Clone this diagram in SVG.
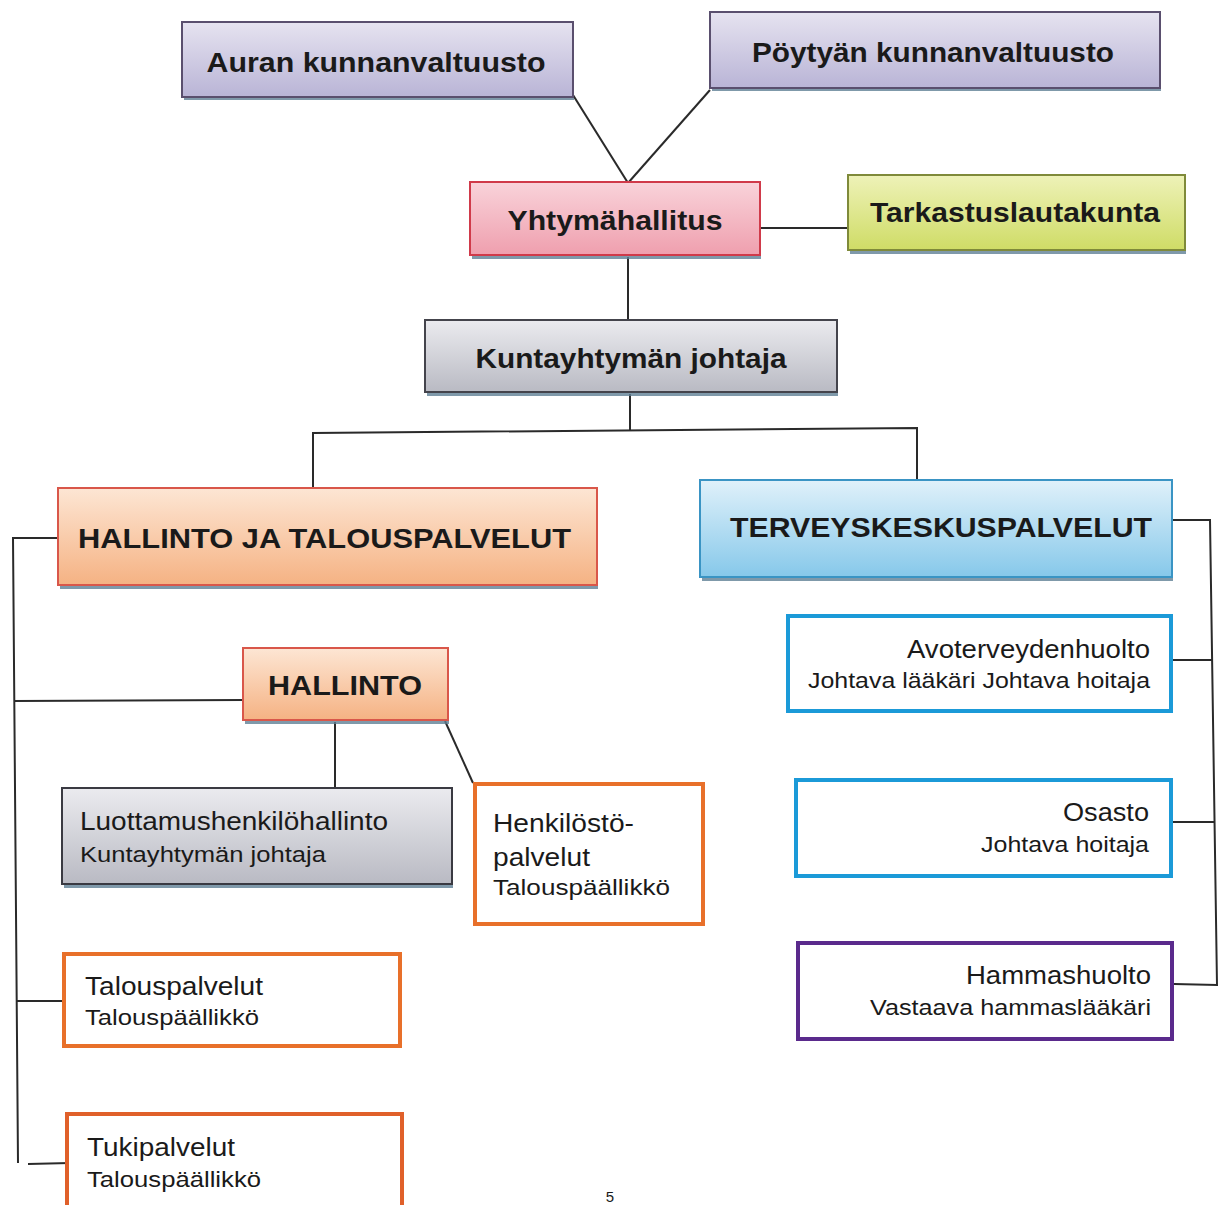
<svg xmlns="http://www.w3.org/2000/svg" width="1225" height="1205" viewBox="0 0 1225 1205">
<defs>
<linearGradient id="gLav" x1="0" y1="0" x2="0" y2="1"><stop offset="0" stop-color="#e6e3f0"/><stop offset="1" stop-color="#b9b4d6"/></linearGradient>
<linearGradient id="gPink" x1="0" y1="0" x2="0" y2="1"><stop offset="0" stop-color="#f9d3da"/><stop offset="1" stop-color="#ef9fae"/></linearGradient>
<linearGradient id="gYel" x1="0" y1="0" x2="0" y2="1"><stop offset="0" stop-color="#eef2b8"/><stop offset="1" stop-color="#cfdc66"/></linearGradient>
<linearGradient id="gGray" x1="0" y1="0" x2="0" y2="1"><stop offset="0" stop-color="#ebebef"/><stop offset="1" stop-color="#b9bac3"/></linearGradient>
<linearGradient id="gPeach" x1="0" y1="0" x2="0" y2="1"><stop offset="0" stop-color="#fde6d4"/><stop offset="1" stop-color="#f5b283"/></linearGradient>
<linearGradient id="gBlue" x1="0" y1="0" x2="0" y2="1"><stop offset="0" stop-color="#e0f1fa"/><stop offset="1" stop-color="#86c8ea"/></linearGradient>
</defs>
<style>
.t{font-family:"Liberation Sans",Arial,sans-serif;fill:#1a1a1a}
.b{font-weight:bold;font-size:28px}
.n1{font-size:25px}
.n2{font-size:22px}
.box{stroke-width:2}
.ol{fill:#ffffff;stroke-width:4}
.sh{fill:#5f7f95;opacity:0.8}
.c{fill:none;stroke:#2a2a2a;stroke-width:2}
</style>
<rect width="1225" height="1205" fill="#ffffff"/>
<g id="connectors">
<line class="c" x1="573" y1="95" x2="628" y2="183"/>
<line class="c" x1="710" y1="90" x2="628" y2="183"/>
<line class="c" x1="760" y1="228" x2="848" y2="228"/>
<line class="c" x1="628" y1="257" x2="628" y2="320"/>
<line class="c" x1="630" y1="394" x2="630" y2="430"/>
<polyline class="c" points="313,490 313,433 917,428 917,480"/>
<polyline class="c" points="1172,520 1210,520 1217,985 1174,984"/>
<line class="c" x1="1172" y1="660" x2="1212" y2="660"/>
<line class="c" x1="1172" y1="822" x2="1214" y2="822"/>
<polyline class="c" points="58,538 13,538 18,1163"/>
<line class="c" x1="14" y1="701" x2="243" y2="700"/>
<line class="c" x1="335" y1="722" x2="335" y2="788"/>
<line class="c" x1="445" y1="721" x2="473" y2="783"/>
<line class="c" x1="17" y1="1001" x2="62" y2="1001"/>
<line class="c" x1="28" y1="1164" x2="70" y2="1163"/>
</g>
<g id="auran">
<rect class="sh" x="184" y="96" width="390" height="4"/>
<rect class="box" x="182" y="22" width="391" height="75" fill="url(#gLav)" stroke="#5a4f6e"/>
<text class="t b" x="376" y="72" text-anchor="middle" textLength="339" lengthAdjust="spacingAndGlyphs">Auran kunnanvaltuusto</text>
</g>
<g id="poytyan">
<rect class="sh" x="712" y="87" width="449" height="4"/>
<rect class="box" x="710" y="12" width="450" height="76" fill="url(#gLav)" stroke="#5a4f6e"/>
<text class="t b" x="933" y="62" text-anchor="middle" textLength="362" lengthAdjust="spacingAndGlyphs">Pöytyän kunnanvaltuusto</text>
</g>
<g id="yhtymahallitus">
<rect class="sh" x="472" y="255" width="289" height="4"/>
<rect class="box" x="470" y="182" width="290" height="73" fill="url(#gPink)" stroke="#d03a4a"/>
<text class="t b" x="615" y="230" text-anchor="middle" textLength="215" lengthAdjust="spacingAndGlyphs">Yhtymähallitus</text>
</g>
<g id="tarkastuslautakunta">
<rect class="sh" x="850" y="250" width="336" height="4"/>
<rect class="box" x="848" y="175" width="337" height="75" fill="url(#gYel)" stroke="#7f8a3a"/>
<text class="t b" x="1015" y="222" text-anchor="middle" textLength="290" lengthAdjust="spacingAndGlyphs">Tarkastuslautakunta</text>
</g>
<g id="kuntayhtyman-johtaja">
<rect class="sh" x="427" y="392" width="411" height="4"/>
<rect class="box" x="425" y="320" width="412" height="72" fill="url(#gGray)" stroke="#44444c"/>
<text class="t b" x="631" y="368" text-anchor="middle" textLength="311" lengthAdjust="spacingAndGlyphs">Kuntayhtymän johtaja</text>
</g>
<g id="hallinto-ja-talouspalvelut">
<rect class="sh" x="60" y="585" width="538" height="4"/>
<rect class="box" x="58" y="488" width="539" height="97" fill="url(#gPeach)" stroke="#d9574a"/>
<text class="t b" x="78" y="548" textLength="493" lengthAdjust="spacingAndGlyphs">HALLINTO JA TALOUSPALVELUT</text>
</g>
<g id="terveyskeskuspalvelut">
<rect class="sh" x="702" y="577" width="471" height="4"/>
<rect class="box" x="700" y="480" width="472" height="97" fill="url(#gBlue)" stroke="#3a94c4"/>
<text class="t b" x="730" y="537" textLength="422" lengthAdjust="spacingAndGlyphs">TERVEYSKESKUSPALVELUT</text>
</g>
<g id="hallinto">
<rect class="sh" x="245" y="720" width="204" height="4"/>
<rect class="box" x="243" y="648" width="205" height="72" fill="url(#gPeach)" stroke="#d9574a"/>
<text class="t b" x="345" y="695" text-anchor="middle" textLength="154" lengthAdjust="spacingAndGlyphs">HALLINTO</text>
</g>
<g id="luottamushenkilohallinto">
<rect class="sh" x="64" y="884" width="389" height="4"/>
<rect class="box" x="62" y="788" width="390" height="96" fill="url(#gGray)" stroke="#3a3a42"/>
<text class="t n1" x="80" y="830" textLength="308" lengthAdjust="spacingAndGlyphs">Luottamushenkilöhallinto</text>
<text class="t n2" x="80" y="862" textLength="246" lengthAdjust="spacingAndGlyphs">Kuntayhtymän johtaja</text>
</g>
<g id="henkilostopalvelut">
<rect class="ol" x="475" y="784" width="228" height="140" stroke="#e8702a"/>
<text class="t n1" x="493" y="832" textLength="141" lengthAdjust="spacingAndGlyphs">Henkilöstö-</text>
<text class="t n1" x="493" y="866" textLength="97" lengthAdjust="spacingAndGlyphs">palvelut</text>
<text class="t n2" x="493" y="895" textLength="177" lengthAdjust="spacingAndGlyphs">Talouspäällikkö</text>
</g>
<g id="talouspalvelut">
<rect class="ol" x="64" y="954" width="336" height="92" stroke="#e8702a"/>
<text class="t n1" x="85" y="995" textLength="178" lengthAdjust="spacingAndGlyphs">Talouspalvelut</text>
<text class="t n2" x="85" y="1025" textLength="174" lengthAdjust="spacingAndGlyphs">Talouspäällikkö</text>
</g>
<g id="tukipalvelut">
<rect class="ol" x="67" y="1114" width="335" height="100" stroke="#e0602a"/>
<text class="t n1" x="87" y="1156" textLength="148" lengthAdjust="spacingAndGlyphs">Tukipalvelut</text>
<text class="t n2" x="87" y="1187" textLength="174" lengthAdjust="spacingAndGlyphs">Talouspäällikkö</text>
</g>
<g id="avoterveydenhuolto">
<rect class="ol" x="788" y="616" width="383" height="95" stroke="#1b9ad8"/>
<text class="t n1" x="1150" y="658" text-anchor="end" textLength="243" lengthAdjust="spacingAndGlyphs">Avoterveydenhuolto</text>
<text class="t n2" x="1150" y="688" text-anchor="end" textLength="342" lengthAdjust="spacingAndGlyphs">Johtava lääkäri Johtava hoitaja</text>
</g>
<g id="osasto">
<rect class="ol" x="796" y="780" width="375" height="96" stroke="#1b9ad8"/>
<text class="t n1" x="1149" y="821" text-anchor="end" textLength="86" lengthAdjust="spacingAndGlyphs">Osasto</text>
<text class="t n2" x="1149" y="852" text-anchor="end" textLength="168" lengthAdjust="spacingAndGlyphs">Johtava hoitaja</text>
</g>
<g id="hammashuolto">
<rect class="ol" x="798" y="943" width="374" height="96" stroke="#5a2a8c"/>
<text class="t n1" x="1151" y="984" text-anchor="end" textLength="185" lengthAdjust="spacingAndGlyphs">Hammashuolto</text>
<text class="t n2" x="1151" y="1015" text-anchor="end" textLength="281" lengthAdjust="spacingAndGlyphs">Vastaava hammaslääkäri</text>
</g>
<text class="t" x="610" y="1202" font-size="15" text-anchor="middle">5</text>
</svg>
